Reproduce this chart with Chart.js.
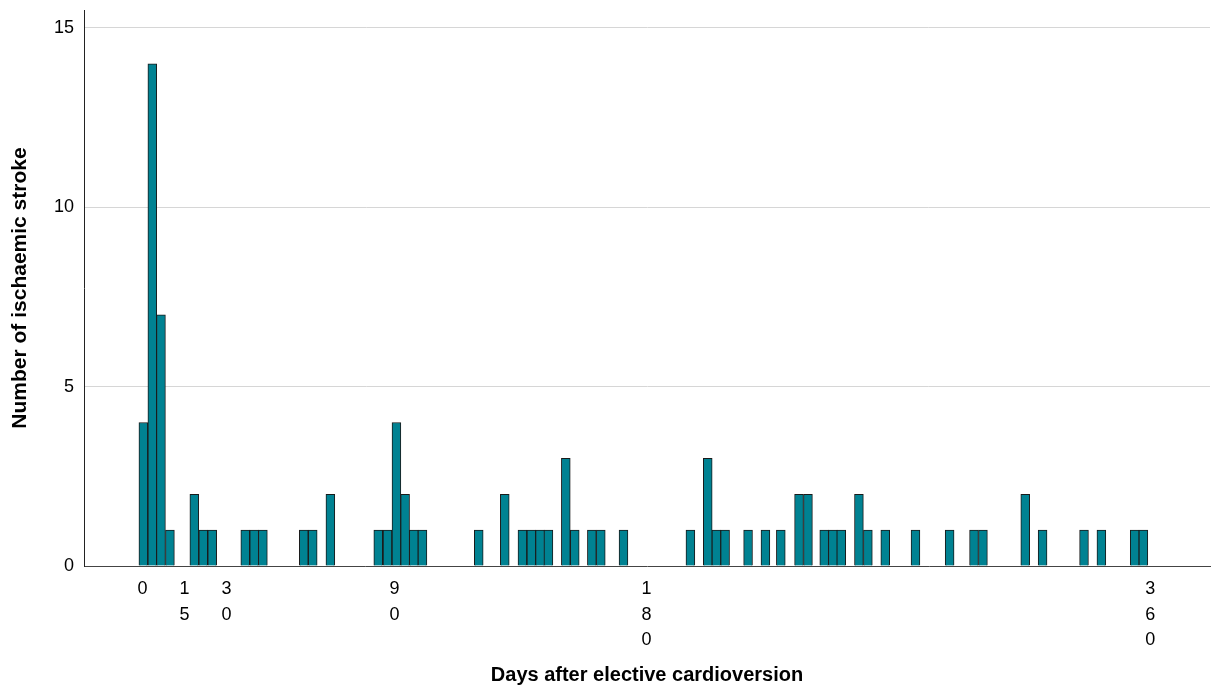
<!DOCTYPE html>
<html>
<head>
<meta charset="utf-8">
<script src="https://cdn.jsdelivr.net/npm/chart.js@4/dist/chart.umd.min.js"></script>
<style>
  html, body { margin: 0; padding: 0; background: #fff; }
  canvas { display: block; }
</style>
</head>
<body>
<canvas id="strokeChart" width="1212" height="688"></canvas>
<script>
// day of each bar (centre) and number of ischaemic strokes
const days = [0.3, 3.5, 6.6, 9.8, 18.5, 21.7, 24.9, 36.7, 39.9, 43.0,
              57.6, 60.8, 67.1, 84.2, 87.5, 90.7, 93.8, 96.9, 100.0,
              120.1, 129.4, 135.7, 138.9, 142.0, 145.0, 151.2, 154.4, 160.5, 163.7, 171.8,
              195.7, 201.9, 205.0, 208.1, 216.3, 222.5, 228.0, 234.5, 237.7, 243.5,
              246.6, 249.6, 255.9, 259.1, 265.3, 276.1, 288.3,
              297.0, 300.2, 315.3, 321.5, 336.3, 342.5, 354.4, 357.5];
const strokes = [4, 14, 7, 1, 2, 1, 1, 1, 1, 1,
                 1, 1, 2, 1, 1, 4, 2, 1, 1,
                 1, 2, 1, 1, 1, 1, 3, 1, 1, 1, 1,
                 1, 3, 1, 1, 1, 1, 1, 2, 2, 1,
                 1, 1, 2, 1, 1, 1, 1,
                 1, 1, 2, 1, 1, 1, 1, 1];
const xTicks = [0, 15, 30, 90, 180, 360];
const yTicks = [0, 5, 10, 15];

const FONT = '"Liberation Sans", Arial, Helvetica, sans-serif';

const points = days.map((d, i) => ({ x: d, y: strokes[i] }));

new Chart(document.getElementById('strokeChart'), {
  type: 'bar',
  data: {
    datasets: [{
      data: points,
      backgroundColor: '#008292',
      borderColor: '#1a1a1a',
      borderWidth: 1,
      barThickness: 8.85
    }]
  },
  options: {
    responsive: false,
    animation: false,
    layout: { padding: { top: 10, right: 2, left: 0, bottom: 0 } },
    plugins: {
      legend: { display: false },
      tooltip: { enabled: false }
    },
    scales: {
      x: {
        type: 'linear',
        offset: false,
        min: -20.9,
        max: 381.3,
        afterBuildTicks: s => { s.ticks = xTicks.map(v => ({ value: v })); },
        afterFit: s => { s.height = 122; s.paddingLeft = 0; s.paddingRight = 0; },
        grid: { display: false },
        border: { display: true, color: '#444', width: 1 },
        ticks: {
          autoSkip: false,
          maxRotation: 0,
          padding: 2,
          color: '#000',
          font: { family: FONT, size: 18, lineHeight: 1.43 },
          // digits stacked, as in the original
          callback: v => String(v).split('')
        },
        title: {
          display: true,
          text: 'Days after elective cardioversion',
          color: '#000',
          font: { family: FONT, size: 20, weight: 'bold' },
          padding: { top: 0, bottom: 1 }
        }
      },
      y: {
        min: 0,
        max: 15.5,
        afterBuildTicks: s => { s.ticks = yTicks.map(v => ({ value: v })); },
        afterFit: s => { s.width = 84; s.paddingTop = 0; s.paddingBottom = 0; },
        grid: {
          drawTicks: false,
          color: c => (c.tick && c.tick.value === 0) ? 'rgba(0,0,0,0)' : '#d6d6d6',
          lineWidth: 1
        },
        border: { display: true, color: '#222', width: 1 },
        ticks: {
          padding: 10,
          color: '#000',
          font: { family: FONT, size: 18 }
        },
        title: {
          display: true,
          text: 'Number of ischaemic stroke',
          color: '#000',
          font: { family: FONT, size: 21, weight: 'bold' },
          padding: { top: 8, bottom: 0 }
        }
      }
    }
  }
});
</script>
</body>
</html>
